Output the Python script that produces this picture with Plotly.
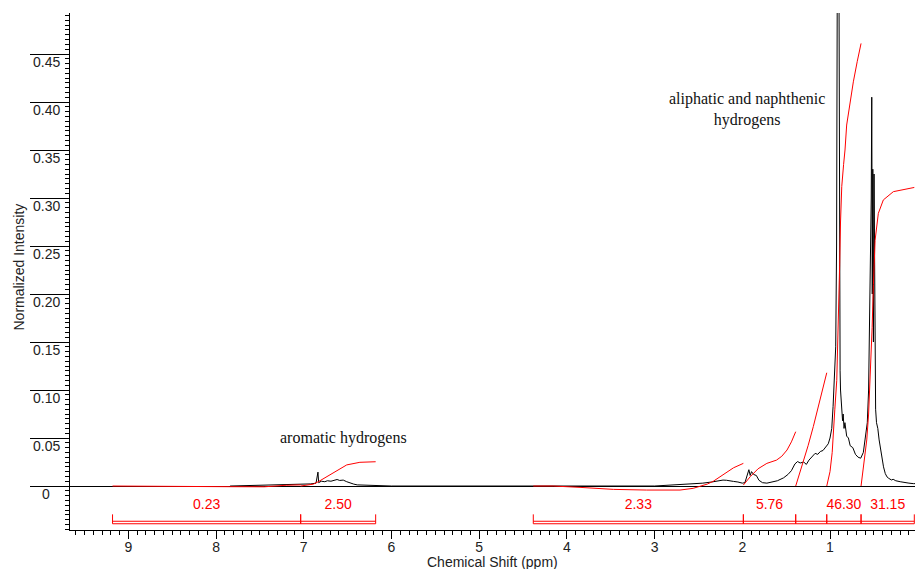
import plotly.graph_objects as go

# ---------------- data ----------------
# 1H NMR spectrum (ppm, normalized intensity)
spec_ppm = [7.84, 7.70, 7.55, 7.50, 7.45, 7.30, 7.20, 7.10, 7.00, 6.92, 6.86, 6.838, 6.83,
            6.80, 6.76, 6.73, 6.69, 6.65, 6.62, 6.59, 6.55, 6.51, 6.47, 6.43, 6.39, 6.30,
            6.22, 6.15, 6.00,
            3.00, 2.85, 2.70, 2.56, 2.45, 2.35, 2.28, 2.22, 2.18, 2.14, 2.10, 2.05, 2.00,
            1.97, 1.94, 1.925, 1.91, 1.895, 1.87, 1.84, 1.81, 1.77, 1.72, 1.66, 1.60, 1.53,
            1.48, 1.44, 1.40, 1.37, 1.34, 1.30, 1.27, 1.24, 1.20, 1.17, 1.14, 1.11, 1.08,
            1.05, 1.02, 1.00, 0.98, 0.965, 0.95, 0.935, 0.925, 0.915, 0.900, 0.892, 0.885,
            0.88, 0.87, 0.857, 0.85, 0.84, 0.83, 0.81, 0.79, 0.77, 0.74, 0.71, 0.68, 0.65,
            0.62, 0.60, 0.59, 0.575, 0.56, 0.545, 0.53, 0.524, 0.518, 0.512, 0.505, 0.498,
            0.49, 0.48, 0.47, 0.455, 0.44, 0.425, 0.41, 0.39, 0.37, 0.35, 0.33, 0.30, 0.28,
            0.25, 0.20, 0.15, 0.10, 0.05, 0.03]
spec_int = [0.0000, 0.0003, 0.0008, 0.0012, 0.0006, 0.0010, 0.0012, 0.0016, 0.0020, 0.0022, 0.0030, 0.0145, 0.0035,
            0.0050, 0.0045, 0.0055, 0.0050, 0.0060, 0.0068, 0.0058, 0.0062, 0.0045, 0.0030, 0.0020, 0.0012, 0.0008,
            0.0010, 0.0002, 0.0000,
            0.0000, 0.0008, 0.0015, 0.0022, 0.0030, 0.0042, 0.0055, 0.0062, 0.0060, 0.0050, 0.0048, 0.0042, 0.0030,
            0.0035, 0.0120, 0.0170, 0.0110, 0.0150, 0.0120, 0.0110, 0.0060, 0.0035, 0.0030, 0.0040, 0.0055, 0.0085,
            0.0120, 0.0160, 0.0230, 0.0255, 0.0240, 0.0250, 0.0225, 0.0270, 0.0310, 0.0340, 0.0330, 0.0360, 0.0370,
            0.0400, 0.0440, 0.0500, 0.0600, 0.0830, 0.1200, 0.1450, 0.2500, 0.6000, 0.6000, 0.2000, 0.1200,
            0.1000, 0.0800, 0.0680, 0.0750, 0.0600, 0.0660, 0.0520, 0.0500, 0.0420, 0.0400, 0.0330, 0.0300, 0.0290,
            0.0350, 0.0500, 0.0550, 0.0660, 0.1000, 0.2000, 0.3000, 0.4050, 0.2000, 0.3300, 0.1500, 0.3250,
            0.1500, 0.0800, 0.0660, 0.0600, 0.0480, 0.0380, 0.0300, 0.0200, 0.0130, 0.0095, 0.0080, 0.0063, 0.0070,
            0.0055, 0.0045, 0.0035, 0.0030, 0.0025, 0.0025]

# integral regions (start ppm, end ppm) and their values
integral_regions = [(9.18, 7.035), (7.035, 6.18), (4.383, 1.988), (1.988, 1.391),
                    (1.391, 1.037), (1.037, 0.646), (0.646, 0.039)]
integral_labels = ["0.23", "2.50", "2.33", "5.76", "", "46.30", "31.15"]

# integral curves (ppm, cumulative value on intensity scale)
int1_ppm = [9.18, 7.90, 7.85, 7.45, 7.35, 7.20, 7.035]
int1_val = [0.0, 0.0, -0.0007, -0.0008, 0.0, 0.0008, 0.0012]
int2_ppm = [7.035, 6.95, 6.89, 6.834, 6.738, 6.624, 6.51, 6.36, 6.18]
int2_val = [0.0, 0.0008, 0.002, 0.0045, 0.0097, 0.0167, 0.022, 0.0247, 0.0253]
int3_ppm = [4.383, 4.155, 3.85, 3.47, 3.09, 2.71, 2.56, 2.40, 2.33, 2.25, 2.16, 2.10, 1.988]
int3_val = [0.0, 0.0, -0.0014, -0.0035, -0.0042, -0.0042, -0.0024, 0.002, 0.005, 0.010, 0.016, 0.019, 0.0236]
int4_ppm = [1.988, 1.91, 1.82, 1.72, 1.61, 1.55, 1.49, 1.44, 1.391]
int4_val = [0.001, 0.0097, 0.018, 0.0236, 0.027, 0.031, 0.0375, 0.046, 0.0566]
int5_ppm = [1.391, 1.35, 1.304, 1.25, 1.19, 1.11, 1.037]
int5_val = [0.0, 0.012, 0.025, 0.042, 0.062, 0.090, 0.118]
int6_ppm = [1.037, 1.00, 0.975, 0.962, 0.945, 0.923, 0.91, 0.90, 0.89, 0.88, 0.866, 0.845,
            0.829, 0.81, 0.78, 0.734, 0.69, 0.646]
int6_val = [0.0, 0.015, 0.035, 0.051, 0.08, 0.11, 0.15, 0.19, 0.23, 0.275, 0.312, 0.335,
            0.350, 0.376, 0.395, 0.421, 0.442, 0.461]
int7_ppm = [0.646, 0.62, 0.60, 0.581, 0.56, 0.543, 0.52, 0.505, 0.486, 0.449, 0.392, 0.278, 0.164, 0.039]
int7_val = [0.0, 0.018, 0.035, 0.048, 0.075, 0.11, 0.165, 0.21, 0.256, 0.284, 0.298, 0.3066, 0.309, 0.311]

y_tick_vals = [0, 0.05, 0.10, 0.15, 0.20, 0.25, 0.30, 0.35, 0.40, 0.45]
y_tick_labels = ["0", "0.05", "0.10", "0.15", "0.20", "0.25", "0.30", "0.35", "0.40", "0.45"]
x_tick_vals = [9, 8, 7, 6, 5, 4, 3, 2, 1, 0]
x_tick_labels = ["9", "8", "7", "6", "5", "4", "3", "2", "1", "0"]

annotations_text = ["aromatic hydrogens", "aliphatic and naphthenic<br>hydrogens"]
annotations_pos = [(6.552, 0.050), (1.946, 0.392)]

# ---------------- figure ----------------
RED = "#ff0000"
fig = go.Figure()

fig.add_trace(go.Scatter(x=spec_ppm, y=spec_int, mode="lines",
                         line=dict(color="black", width=1), hoverinfo="skip", showlegend=False))

for xs, ys in [(int1_ppm, int1_val), (int2_ppm, int2_val), (int3_ppm, int3_val),
               (int4_ppm, int4_val), (int5_ppm, int5_val), (int6_ppm, int6_val),
               (int7_ppm, int7_val)]:
    fig.add_trace(go.Scatter(x=xs, y=ys, mode="lines", line=dict(color=RED, width=1),
                             hoverinfo="skip", showlegend=False))

# integral brackets
TICK_TOP, LINE_UP, LINE_LOW, LABEL_Y = -0.0295, -0.0367, -0.0393, -0.0205
bx, by = [], []
for a, b in integral_regions:
    bx += [a, a, b, b, None, a, b, None]
    by += [TICK_TOP, LINE_LOW, LINE_LOW, TICK_TOP, None, LINE_UP, LINE_UP, None]
fig.add_trace(go.Scatter(x=bx, y=by, mode="lines", line=dict(color=RED, width=1),
                         hoverinfo="skip", showlegend=False))
fig.add_trace(go.Scatter(x=[(a + b) / 2 for a, b in integral_regions],
                         y=[LABEL_Y] * len(integral_regions),
                         text=integral_labels, mode="text",
                         textfont=dict(color=RED, size=14, family="Liberation Sans, Arial"),
                         hoverinfo="skip", showlegend=False))

PLOT_W, PLOT_H = 845, 517
Y_RANGE = [-0.0458, 0.4927]
fig.update_layout(
    width=915, height=569,
    margin=dict(l=70, r=0, t=13, b=39, autoexpand=False),
    paper_bgcolor="white", plot_bgcolor="white",
    font=dict(family="Liberation Sans, Arial", color="#222"),
    xaxis=dict(range=[9.665, 0.031], showgrid=False, zeroline=False,
               showline=True, linecolor="black", linewidth=1,
               tickmode="array", tickvals=x_tick_vals, ticktext=x_tick_labels,
               ticks="outside", ticklen=8, tickcolor="black", tickwidth=1,
               tickfont=dict(size=14, color="#222"), ticklabelstandoff=-4,
               minor=dict(dtick=0.1, tick0=0, ticks="outside", ticklen=4, tickcolor="black"),
               automargin=False),
    yaxis=dict(range=Y_RANGE, showgrid=False,
               zeroline=True, zerolinecolor="black", zerolinewidth=1,
               showline=True, linecolor="black", linewidth=1,
               tickmode="array", tickvals=y_tick_vals, showticklabels=False,
               ticks="outside", ticklen=39, tickcolor="black", tickwidth=1,
               minor=dict(dtick=0.005, tick0=0, ticks="outside", ticklen=4, tickcolor="black"),
               automargin=False),
    yaxis2=dict(range=Y_RANGE, overlaying="y", side="left", showgrid=False, zeroline=False,
                showline=False, tickmode="linear", tick0=0.025, dtick=0.05,
                ticks="outside", ticklen=7, tickcolor="black", showticklabels=False,
                automargin=False),
)

annots = []
for v, lab in zip(y_tick_vals, y_tick_labels):
    annots.append(dict(x=-24 / PLOT_W, xref="paper", y=v, yref="y", text=lab,
                       showarrow=False, xanchor="center", yanchor="middle", yshift=-8,
                       font=dict(size=14, color="#222", family="Liberation Sans, Arial")))
for txt, (px, py) in zip(annotations_text, annotations_pos):
    annots.append(dict(x=px, y=py, xref="x", yref="y", text=txt, showarrow=False,
                       xanchor="center", yanchor="middle",
                       font=dict(size=16, color="#111", family="Liberation Serif, Times New Roman")))
annots.append(dict(x=0.5, xref="paper", y=-32 / PLOT_H, yref="paper",
                   text="Chemical Shift (ppm)", showarrow=False, xanchor="center", yanchor="middle",
                   font=dict(size=14, color="#222", family="Liberation Sans, Arial")))
annots.append(dict(x=-52 / PLOT_W, xref="paper", y=262.5 / PLOT_H, yref="paper",
                   text="Normalized Intensity", textangle=-90, showarrow=False,
                   xanchor="center", yanchor="middle",
                   font=dict(size=14, color="#222", family="Liberation Sans, Arial")))
fig.update_layout(annotations=annots)

fig.write_html("out.html", config={"displayModeBar": False},
               post_script="document.body.style.margin='0';document.body.style.overflow='hidden';")
